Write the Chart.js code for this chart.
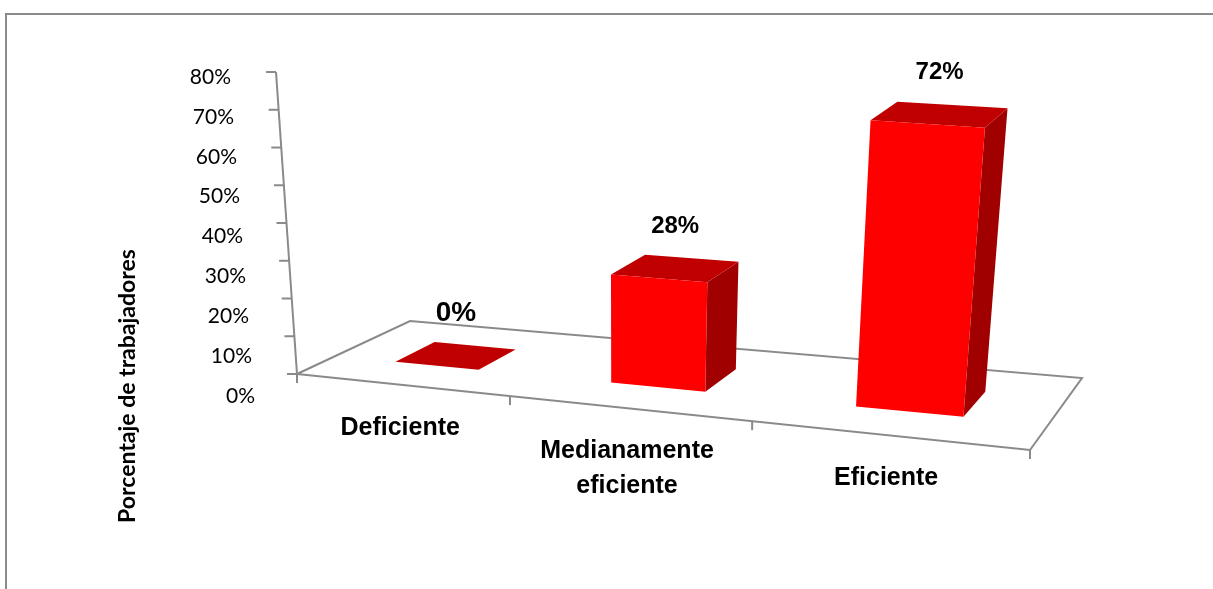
<!DOCTYPE html>
<html>
<head>
<meta charset="utf-8">
<script src="https://cdn.jsdelivr.net/npm/chart.js@4.4.1/dist/chart.umd.min.js"></script>
<style>
  html, body { margin: 0; padding: 0; background: #fff; }
  canvas { display: block; }
</style>
</head>
<body>
<canvas id="chart" width="1213" height="589"></canvas>
<script>
// datos del grafico
const categories = ["Deficiente", ["Medianamente", "eficiente"], "Eficiente"];
const values = [0, 28, 72];
const valueLabels = ["0%", "28%", "72%"];
const yTickValues = [0, 10, 20, 30, 40, 50, 60, 70, 80];
const yTitle = "Porcentaje de trabajadores";

// estilos
const FRONT = "#ff0000";
const TOP = "#c00000";
const SIDE = "#a00000";
const LINE = "#8a8a8a";
const labelSizes = [28, 24, 24];

// "camara": piso en perspectiva (esquinas del piso en pantalla) + punto de fuga vertical
const floorQuad = { x0: 297, y0: 374, x1: 1030, y1: 450, x2: 1082, y2: 378, x3: 410, y3: 321 };
const vp = { x: 621, y: 5035 };
const axisHeight = 302.7;
const depth0 = 0.32, depth1 = 0.68;

function makeHomography(q) {
  const dx1 = q.x1 - q.x2, dx2 = q.x3 - q.x2, dx3 = q.x0 - q.x1 + q.x2 - q.x3;
  const dy1 = q.y1 - q.y2, dy2 = q.y3 - q.y2, dy3 = q.y0 - q.y1 + q.y2 - q.y3;
  const den = dx1 * dy2 - dx2 * dy1;
  const g = (dx3 * dy2 - dx2 * dy3) / den;
  const h = (dx1 * dy3 - dx3 * dy1) / den;
  return {
    a: q.x1 - q.x0 + g * q.x1, b: q.x3 - q.x0 + h * q.x3, c: q.x0,
    d: q.y1 - q.y0 + g * q.y1, e: q.y3 - q.y0 + h * q.y3, f: q.y0,
    g, h,
  };
}
const H = makeHomography(floorQuad);

// u: posicion en categorias (0..1), z: profundidad (0..1), t: altura (0..1 del eje)
function project(u, z, t) {
  const w = H.g * u + H.h * z + 1;
  const fx = (H.a * u + H.b * z + H.c) / w;
  const fy = (H.d * u + H.e * z + H.f) / w;
  if (!t) return [fx, fy];
  let dx = fx - vp.x, dy = fy - vp.y;
  const n = Math.hypot(dx, dy);
  dx /= n; dy /= n;
  const len = axisHeight * t * Math.pow(w, -0.45);
  return [fx + dx * len, fy + dy * len];
}

function poly(ctx, pts, fill) {
  ctx.beginPath();
  ctx.moveTo(pts[0][0], pts[0][1]);
  for (let i = 1; i < pts.length; i++) ctx.lineTo(pts[i][0], pts[i][1]);
  ctx.closePath();
  ctx.fillStyle = fill;
  ctx.fill();
}

const bars3d = {
  id: "bars3d",
  beforeDatasetsDraw(chart) {
    const ctx = chart.ctx;
    const area = chart.chartArea;
    const yScale = chart.scales.y;
    const W = area.right - area.left;
    const tOf = (px) => (yScale.bottom - px) / (yScale.bottom - yScale.top);

    ctx.save();

    // marco
    ctx.strokeStyle = LINE;
    ctx.lineWidth = 2;
    ctx.strokeRect(6, 14, chart.width + 20, chart.height + 20);

    // piso
    const fl = [project(0, 0), project(1, 0), project(1, 1), project(0, 1)];
    ctx.beginPath();
    ctx.moveTo(fl[0][0], fl[0][1]);
    for (let i = 1; i < 4; i++) ctx.lineTo(fl[i][0], fl[i][1]);
    ctx.closePath();
    ctx.stroke();

    // marcas de categorias
    for (let k = 0; k <= categories.length; k++) {
      const p = project(k / categories.length, 0);
      ctx.beginPath();
      ctx.moveTo(p[0], p[1]);
      ctx.lineTo(p[0], p[1] + 9);
      ctx.stroke();
    }

    // eje Y
    const ax0 = project(0, 0, 0), ax1 = project(0, 0, 1);
    ctx.beginPath();
    ctx.moveTo(ax0[0], ax0[1]);
    ctx.lineTo(ax1[0], ax1[1]);
    ctx.stroke();

    ctx.font = '21px Lato, "Open Sans", sans-serif';
    ctx.fillStyle = "#000";
    ctx.textAlign = "right";
    ctx.textBaseline = "middle";
    for (const v of yTickValues) {
      const t = tOf(yScale.getPixelForValue(v));
      const p = project(0, 0, t);
      ctx.beginPath();
      ctx.moveTo(p[0] - 10, p[1]);
      ctx.lineTo(p[0], p[1]);
      ctx.stroke();
      ctx.fillText(v + "%", p[0] - 42 - 3 * t, p[1] + 5 + 17 * (1 - t));
    }

    // titulo del eje
    ctx.save();
    ctx.translate(128, 386);
    ctx.rotate(-Math.PI / 2);
    ctx.textAlign = "center";
    ctx.font = 'bold 23px Lato, "Open Sans", sans-serif';
    ctx.fillText(yTitle, 0, 0);
    ctx.restore();

    // barras 3D desde los elementos de Chart.js
    const meta = chart.getDatasetMeta(0);
    meta.data.forEach((el, i) => {
      const u0 = (el.x - el.width / 2 - area.left) / W;
      const u1 = (el.x + el.width / 2 - area.left) / W;
      const t = tOf(el.y);
      if (t > 0) {
        poly(ctx, [project(u1, depth0, 0), project(u1, depth1, 0), project(u1, depth1, t), project(u1, depth0, t)], SIDE);
      }
      poly(ctx, [project(u0, depth0, t), project(u1, depth0, t), project(u1, depth1, t), project(u0, depth1, t)], TOP);
      if (t > 0) {
        poly(ctx, [project(u0, depth0, 0), project(u1, depth0, 0), project(u1, depth0, t), project(u0, depth0, t)], FRONT);
      }

      // etiqueta de valor
      const uc = (el.x - area.left) / W;
      const top = project(uc, (depth0 + depth1) / 2, t);
      ctx.font = "bold " + labelSizes[i] + 'px "Liberation Sans", Arial, sans-serif';
      ctx.textAlign = "center";
      ctx.textBaseline = "middle";
      ctx.fillStyle = "#000";
      ctx.fillText(valueLabels[i], top[0], top[1] - 42);

      // etiqueta de categoria
      const base = project(uc, 0, 0);
      const lines = Array.isArray(categories[i]) ? categories[i] : [categories[i]];
      ctx.font = 'bold 25px "Liberation Sans", Arial, sans-serif';
      lines.forEach((ln, j) => ctx.fillText(ln, base[0], base[1] + 43 + j * 35));
    });

    ctx.restore();
    return false;
  },
};

new Chart(document.getElementById("chart"), {
  type: "bar",
  data: {
    labels: categories,
    datasets: [{
      data: values,
      backgroundColor: FRONT,
      barPercentage: 0.5,
      categoryPercentage: 0.8,
    }],
  },
  options: {
    responsive: false,
    animation: false,
    layout: { padding: 0 },
    plugins: { legend: { display: false }, tooltip: { enabled: false } },
    scales: {
      x: { display: false },
      y: { display: false, min: 0, max: 80 },
    },
  },
  plugins: [bars3d],
});
</script>
</body>
</html>
